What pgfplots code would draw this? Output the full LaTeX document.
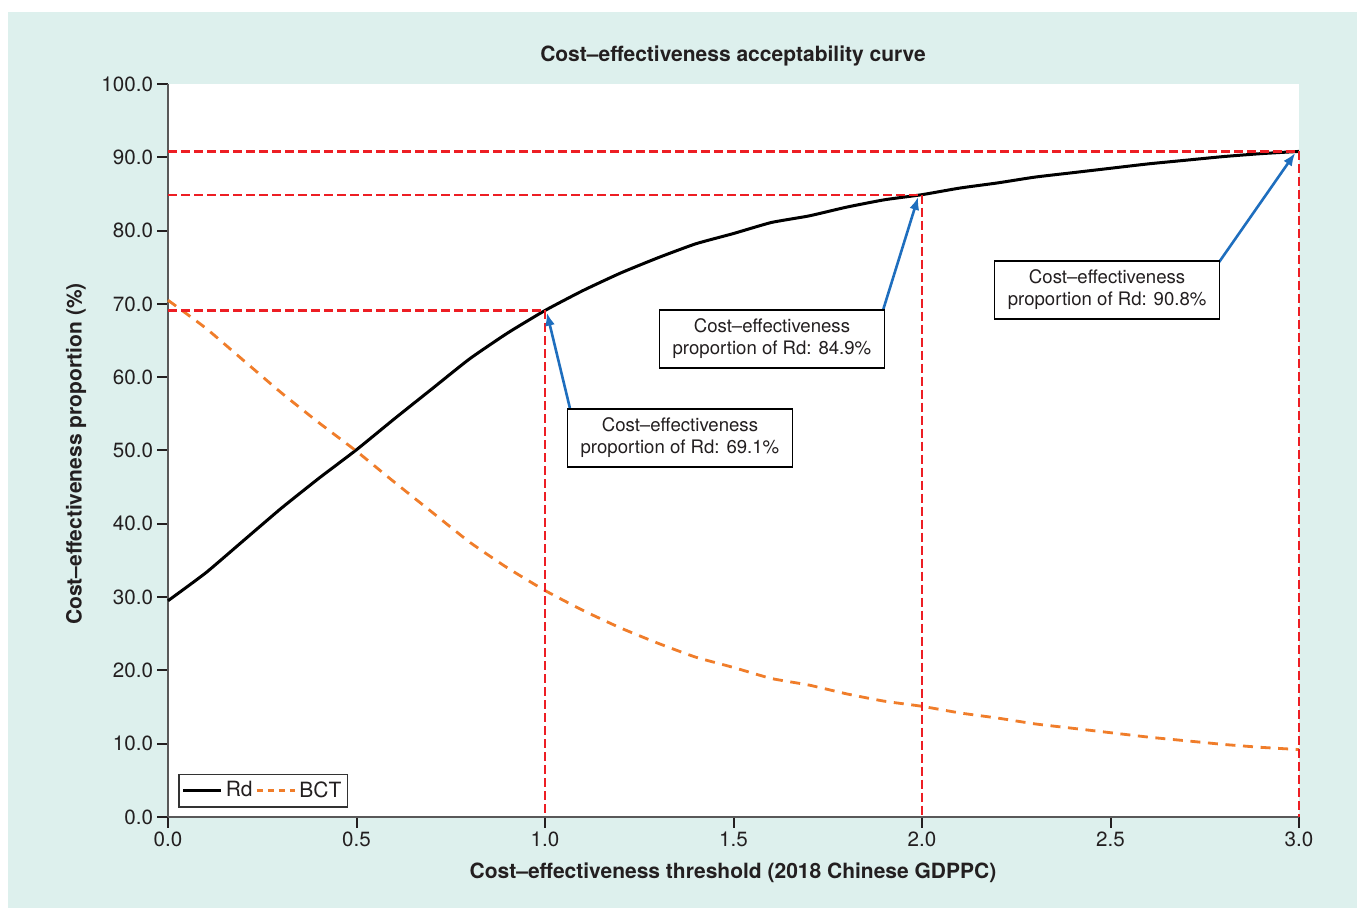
\documentclass[border=0pt]{standalone}
\usepackage{pgfplots}
\pgfplotsset{compat=1.18}
\usepackage{fontspec}
\setmainfont{TeX Gyre Heros}
\usetikzlibrary{arrows.meta}
\definecolor{mint}{RGB}{221,240,237}
\definecolor{refred}{RGB}{237,30,36}
\definecolor{reforange}{RGB}{240,125,42}
\definecolor{refblue}{RGB}{30,110,190}
\definecolor{txt}{RGB}{35,31,32}

\pgfplotstableread{
x rd bct
0.0 29.5 70.5
0.1 33.3 66.7
0.2 37.7 62.3
0.3 42.1 57.9
0.4 46.2 53.8
0.5 50.1 49.9
0.6 54.3 45.7
0.7 58.4 41.6
0.8 62.5 37.5
0.9 66.0 34.0
1.0 69.1 30.9
1.1 71.8 28.2
1.2 74.2 25.8
1.3 76.3 23.7
1.4 78.2 21.8
1.5 79.6 20.4
1.6 81.1 18.9
1.7 82.0 18.0
1.8 83.2 16.8
1.9 84.2 15.8
2.0 84.9 15.1
2.1 85.8 14.2
2.2 86.5 13.5
2.3 87.3 12.7
2.4 87.9 12.1
2.5 88.5 11.5
2.6 89.1 10.9
2.7 89.6 10.4
2.8 90.1 9.9
2.9 90.5 9.5
3.0 90.8 9.2
}\cea

\begin{document}
\begin{tikzpicture}
\fill[white] (0,0) rectangle (678.5pt,455pt);
\fill[mint] (4pt,1pt) rectangle (678.5pt,449pt);
\begin{axis}[
  at={(84pt,46.5pt)}, anchor=south west,
  scale only axis, width=565.5pt, height=366.5pt,
  xmin=0, xmax=3, ymin=0, ymax=100,
  axis background/.style={fill=white},
  axis lines=left,
  axis line style={-, draw=black!65, line width=0.6pt},
  tick align=outside,
  major tick length=5.3pt,
  tick style={line width=1pt, color=txt},
  xtick={0,0.5,1,1.5,2,2.5,3},
  ytick={0,10,20,30,40,50,60,70,80,90,100},
  /pgf/number format/assume math mode=true,
  /pgf/number format/fixed,
  /pgf/number format/fixed zerofill,
  /pgf/number format/precision=1,
  tick label style={font=\fontsize{10.3}{12}\selectfont, text=txt},
  yticklabel style={inner sep=2pt},
  xticklabel style={inner sep=2pt},
  clip=false,
  legend columns=-1,
  legend style={at={(0.0088,0.0123)}, anchor=south west, draw=black!80, line width=0.8pt,
     fill=white, font=\fontsize{10.5}{12}\selectfont, text=txt, inner xsep=1.5pt, inner ysep=1.5pt,
     nodes={inner xsep=1.5pt},
     /tikz/every odd column/.append style={column sep=0pt}},
  legend image code/.code={\draw[#1] (0pt,0pt) -- (19pt,0pt);},
]
\addplot[black, line width=1.5pt, smooth, tension=0.3] table[x=x, y=rd] {\cea};
\addlegendentry{Rd}
\addplot[reforange, line width=1.4pt, dash pattern=on 5pt off 3.8pt, smooth, tension=0.3,
  legend image code/.code={\draw[reforange, line width=1.4pt, dash pattern=on 3pt off 2.5pt] (0pt,0pt) -- (19pt,0pt);}]
  table[x=x, y=bct] {\cea};
\addlegendentry{BCT}

\addplot[refred, line width=1.15pt, dash pattern=on 4.5pt off 2pt, forget plot] coordinates {(0,69.1) (1,69.1) (1,0)};
\addplot[refred, line width=1.15pt, dash pattern=on 4.5pt off 2pt, forget plot] coordinates {(0,84.9) (2,84.9) (2,0)};
\addplot[refred, line width=1.15pt, dash pattern=on 4.5pt off 2pt, forget plot] coordinates {(0,90.8) (3,90.8) (3,0)};

\draw[refblue, line width=1.3pt, -{Latex[length=6.5pt,width=5pt]}] (axis cs:1.066,55.8) -- (axis cs:1.005,68.8);
\draw[refblue, line width=1.3pt, -{Latex[length=6.5pt,width=5pt]}] (axis cs:1.897,69.2) -- (axis cs:1.99,84.6);
\draw[refblue, line width=1.3pt, -{Latex[length=6.5pt,width=5pt]}] (axis cs:2.788,75.7) -- (axis cs:2.99,90.6);

\tikzset{annot/.style={draw=black, line width=0.8pt, fill=white, align=center, text=txt,
  minimum width=112.5pt, minimum height=29pt, inner sep=0pt, font=\fontsize{9.3}{11}\selectfont}}
\node[annot] at (axis cs:1.358,51.7) {Cost–effectiveness\\proportion of Rd: 69.1\%};
\node[annot] at (axis cs:1.602,65.2) {Cost–effectiveness\\proportion of Rd: 84.9\%};
\node[annot] at (axis cs:2.491,71.9) {Cost–effectiveness\\proportion of Rd: 90.8\%};
\end{axis}
\node[font=\bfseries\fontsize{10.5}{12}\selectfont, text=txt] at (366.5pt,427pt) {Cost–effectiveness acceptability curve};
\node[font=\bfseries\fontsize{10.5}{12}\selectfont, text=txt] at (366.5pt,18.5pt) {Cost–effectiveness threshold (2018 Chinese GDPPC)};
\node[font=\bfseries\fontsize{10.5}{12}\selectfont, text=txt, rotate=90] at (38pt,228pt) {Cost–effectiveness proportion (\%)};
\end{tikzpicture}
\end{document}
